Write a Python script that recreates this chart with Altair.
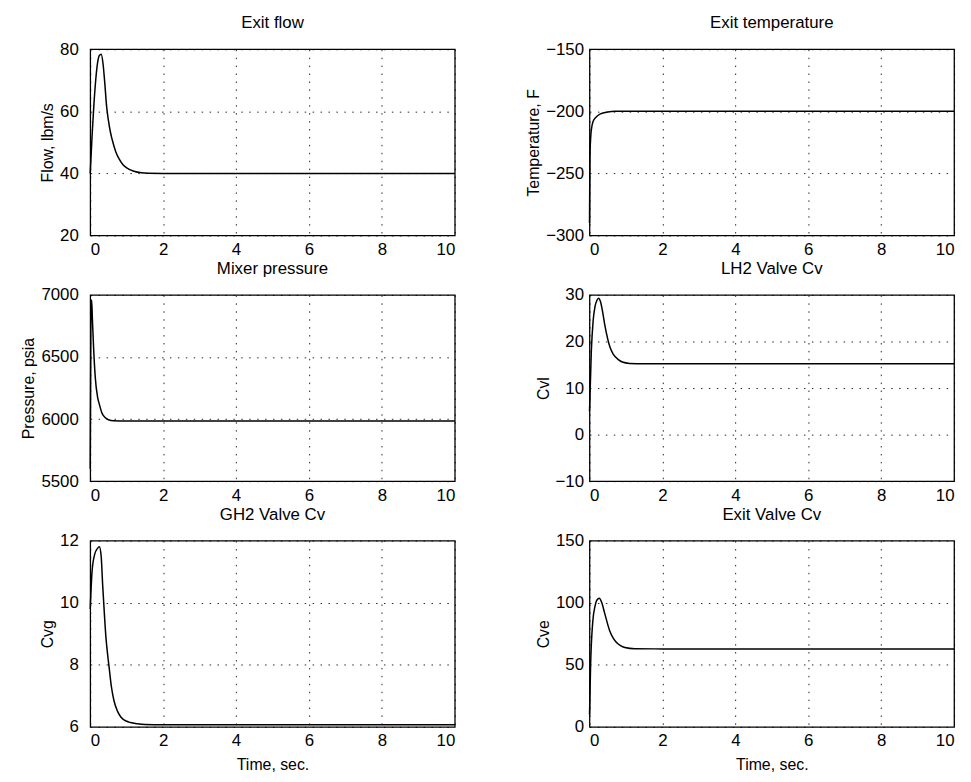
import altair as alt
import pandas as pd

# ---- data ----
t_flow = [0, 0.05, 0.1, 0.15, 0.2, 0.25, 0.3, 0.35, 0.4, 0.45, 0.5, 0.55, 0.6, 0.7, 0.8, 0.9, 1.0, 1.2, 1.4, 1.6, 2, 10]
v_flow = [40, 52, 62, 70, 75.5, 78, 78.4, 75.5, 69, 61.5, 57, 53.5, 51, 47, 44.5, 42.8, 41.8, 40.7, 40.2, 40.05, 40, 40]

t_temp = [0, 0.01, 0.03, 0.06, 0.1, 0.17, 0.3, 0.5, 0.7, 10]
v_temp = [-290, -240, -222, -213, -208, -205, -202, -200.5, -200, -200]

t_pres = [0, 0.02, 0.04, 0.06, 0.09, 0.14, 0.2, 0.25, 0.32, 0.4, 0.5, 0.64, 1, 10]
v_pres = [5600, 6900, 6960, 6800, 6590, 6330, 6180, 6120, 6050, 6015, 5995, 5987, 5985, 5985]

t_cvl = [0, 0.05, 0.1, 0.15, 0.2, 0.25, 0.3, 0.35, 0.42, 0.5, 0.56, 0.65, 0.79, 0.9, 1.1, 1.5, 10]
v_cvl = [5, 18, 24.5, 27.5, 28.8, 29.3, 28.6, 26.8, 23.5, 20.5, 18.8, 17.3, 16.1, 15.6, 15.3, 15.2, 15.2]

t_cvg = [0, 0.05, 0.12, 0.2, 0.25, 0.3, 0.34, 0.38, 0.43, 0.48, 0.52, 0.58, 0.65, 0.75, 0.84, 1.0, 1.1, 1.3, 1.5, 2, 10]
v_cvg = [9.8, 11.0, 11.55, 11.75, 11.8, 11.5, 10.6, 9.8, 8.9, 8.3, 7.9, 7.3, 6.85, 6.5, 6.32, 6.18, 6.14, 6.1, 6.08, 6.07, 6.07]

t_cve = [0, 0.03, 0.09, 0.15, 0.2, 0.27, 0.33, 0.42, 0.55, 0.65, 0.74, 0.85, 0.97, 1.24, 2, 10]
v_cve = [10, 50, 85, 97, 102, 103.5, 100.5, 91, 77.7, 71.5, 68, 65.5, 64, 63, 62.8, 62.8]

x_ticks = [0, 2, 4, 6, 8, 10]

panels = [
    ("Exit flow", t_flow, v_flow, [20, 80], [20, 40, 60, 80], "Flow, lbm/s", False, 12),
    ("Exit temperature", t_temp, v_temp, [-300, -150], [-300, -250, -200, -150], "Temperature, F", False, 6),
    ("Mixer pressure", t_pres, v_pres, [5500, 7000], [5500, 6000, 6500, 7000], "Pressure, psia", False, 12),
    ("LH2 Valve Cv", t_cvl, v_cvl, [-10, 30], [-10, 0, 10, 20, 30], "Cvl", False, 6),
    ("GH2 Valve Cv", t_cvg, v_cvg, [6, 12], [6, 8, 10, 12], "Cvg", True, 12),
    ("Exit Valve Cv", t_cve, v_cve, [0, 150], [0, 50, 100, 150], "Cve", True, 6),
]

charts = []
for title, tt, vv, ydom, yticks, ytitle, show_xt, lp in panels:
    df = pd.DataFrame({"t": tt, "v": vv})
    xkw = dict(values=x_ticks, format="d", labelPadding=6)
    if show_xt:
        xkw["title"] = "Time, sec."
        xkw["titlePadding"] = 8
    else:
        xkw["title"] = ""
    c = (
        alt.Chart(df)
        .mark_line(color="black", strokeWidth=1.5, interpolate="monotone")
        .encode(
            x=alt.X("t:Q", scale=alt.Scale(domain=[0, 10], nice=False), axis=alt.Axis(**xkw)),
            y=alt.Y("v:Q", scale=alt.Scale(domain=ydom, nice=False),
                    axis=alt.Axis(values=yticks, format="d", title=ytitle, labelPadding=lp, titlePadding=4)),
        )
        .properties(width=368, height=188,
                    title=alt.TitleParams(title, fontSize=17, fontWeight="normal", offset=8, font="Liberation Sans"))
    )
    charts.append(c)

chart = (
    alt.concat(*charts, columns=2, spacing=alt.RowColnumber(row=60, column=136), bounds="flush")
    .properties(padding={"left": 12, "top": 2, "right": 5, "bottom": 5})
    .configure_view(stroke="black", strokeWidth=1.3)
    .configure_axis(
        grid=True, gridColor="black", gridDash=[1.5, 6.5], gridOpacity=0.85, gridWidth=1,
        ticks=False, domain=False,
        labelFont="Liberation Sans", labelFontSize=17, labelColor="black",
        titleFont="Liberation Sans", titleFontSize=16, titleFontWeight="normal", titleColor="black",
    )
    .configure_title(color="black")
)

chart.save("out.html", embed_options={"renderer": "svg", "actions": False})
